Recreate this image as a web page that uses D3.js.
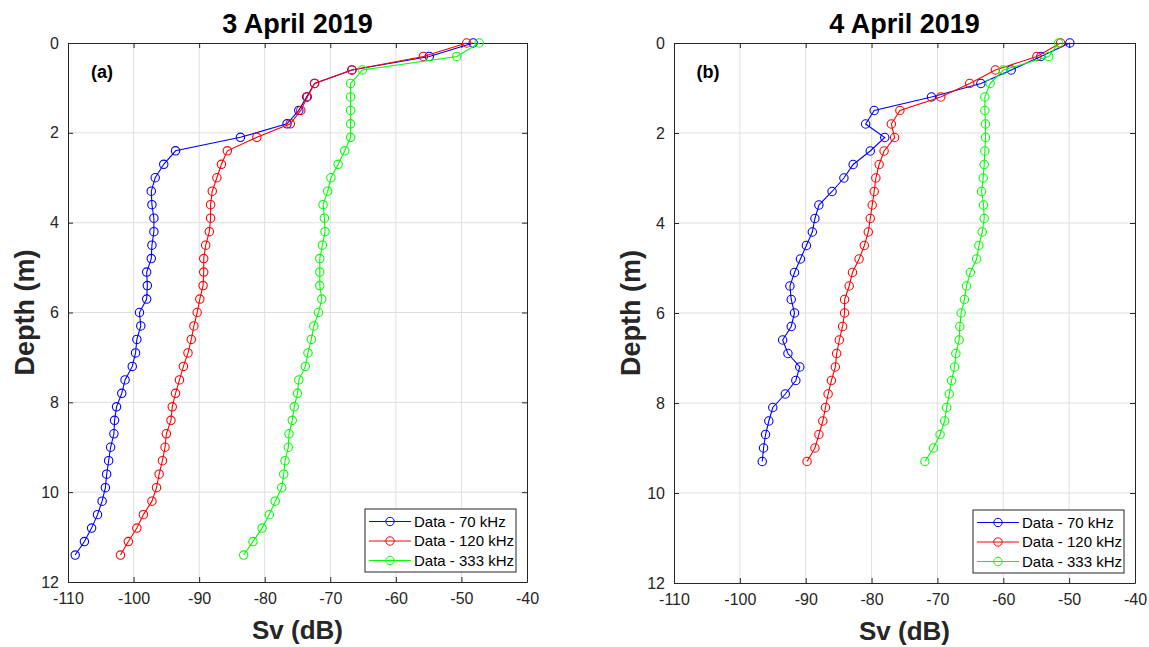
<!DOCTYPE html>
<html>
<head>
<meta charset="utf-8">
<script src="https://cdnjs.cloudflare.com/ajax/libs/d3/7.8.5/d3.min.js"></script>
<style>
  body { margin: 0; background: #fff; }
  svg { font-family: "Liberation Sans", Arial, sans-serif; }
</style>
</head>
<body>
<div id="chart"></div>
<script>
// depth (m) of each sample
var depthsA = [0, 0.3, 0.6, 0.9, 1.2, 1.5, 1.8, 2.1, 2.4, 2.7, 3.0, 3.3, 3.6, 3.9, 4.2, 4.5, 4.8, 5.1, 5.4, 5.7,
    6.0, 6.3, 6.6, 6.9, 7.2, 7.5, 7.8, 8.1, 8.4, 8.7, 9.0, 9.3, 9.6, 9.9, 10.2, 10.5, 10.8, 11.1, 11.4];
var depthsB = [0, 0.3, 0.6, 0.9, 1.2, 1.5, 1.8, 2.1, 2.4, 2.7, 3.0, 3.3, 3.6, 3.9, 4.2, 4.5, 4.8, 5.1, 5.4, 5.7,
    6.0, 6.3, 6.6, 6.9, 7.2, 7.5, 7.8, 8.1, 8.4, 8.7, 9.0, 9.3];

// 3 April 2019 - Sv (dB)
var sv70A = [-48.2, -54.9, -66.7, -72.4, -73.6, -74.8, -76.6, -83.7, -93.6, -95.4, -96.7, -97.3, -97.2, -96.9, -96.9,
    -97.2, -97.3, -98.0, -97.9, -98.0, -99.1, -98.9, -99.5, -99.7, -100.2, -101.3, -101.8, -102.6, -102.9, -103.0,
    -103.5, -103.8, -104.1, -104.3, -104.8, -105.5, -106.4, -107.5, -108.9];
var sv120A = [-49.2, -55.8, -66.7, -72.4, -73.5, -74.5, -76.1, -81.2, -85.7, -86.6, -87.3, -88.0, -88.25, -88.25, -88.45,
    -89.0, -89.3, -89.3, -89.4, -89.9, -90.3, -90.8, -91.2, -91.7, -92.4, -93.0, -93.6, -94.1, -94.3, -95.0,
    -95.2, -95.6, -96.1, -96.5, -97.2, -98.5, -99.5, -100.8, -102.0];
var sv333A = [-47.3, -50.7, -65.1, -66.9, -66.9, -66.9, -66.9, -66.9, -67.8, -68.8, -69.9, -70.4, -71.1, -70.9, -70.8,
    -71.2, -71.6, -71.6, -71.6, -71.3, -71.8, -72.5, -72.9, -73.4, -73.8, -74.8, -75.0, -75.5, -75.8, -76.3,
    -76.4, -76.9, -77.1, -77.4, -78.4, -79.3, -80.4, -81.8, -83.2];

// 4 April 2019 - Sv (dB)
var sv70B = [-49.9, -54.3, -58.8, -63.4, -70.9, -79.6, -80.9, -78.0, -80.2, -82.8, -84.2, -86.0, -88.0, -88.6, -89.0,
    -89.9, -90.8, -91.7, -92.4, -92.2, -91.7, -92.2, -93.5, -92.7, -90.9, -91.5, -93.1, -95.0, -95.6, -96.1,
    -96.4, -96.6];
var sv120B = [-51.3, -54.9, -61.2, -65.1, -69.5, -75.7, -77.0, -76.5, -78.1, -78.85, -79.35, -79.6, -79.9, -80.2, -80.5,
    -81.1, -81.9, -82.9, -83.4, -84.1, -84.1, -84.4, -84.9, -85.3, -85.5, -86.1, -86.6, -87.0, -87.4, -88.0,
    -88.6, -89.8];
var sv333B = [-51.6, -53.1, -60.0, -62.0, -62.8, -62.8, -62.7, -62.7, -62.8, -62.9, -63.05, -63.3, -63.0, -62.9, -63.2,
    -63.7, -64.05, -65.0, -65.6, -65.9, -66.4, -66.6, -66.7, -67.2, -67.4, -67.85, -68.2, -68.6, -68.9, -69.6,
    -70.6, -71.9];

var seriesNames = ["Data - 70 kHz", "Data - 120 kHz", "Data - 333 kHz"];
var seriesColors = ["#0000ff", "#ff0000", "#00ff00"];
var xTicks = [-110, -100, -90, -80, -70, -60, -50, -40];
var yTicks = [0, 2, 4, 6, 8, 10, 12];

var svg = d3.select("#chart")
    .append("svg")
    .attr("width", 1149)
    .attr("height", 647);

// plain hyphen for negatives, like matlab
var plainFmt = function (d) { return String(d); };

function drawPanel(opts) {
    var width = opts.width, height = opts.height;
    var g = svg.append("g")
        .attr("transform", "translate(" + opts.left + "," + opts.top + ")");

    var x = d3.scaleLinear().domain([-110, -40]).range([0, width]);
    var y = d3.scaleLinear().domain([0, 12]).range([0, height]);

    // grid
    g.append("g").selectAll("line.gx")
        .data(xTicks.slice(1, -1))
        .enter().append("line")
        .attr("x1", d => x(d)).attr("x2", d => x(d))
        .attr("y1", 0).attr("y2", height)
        .attr("stroke", "#dfdfdf").attr("stroke-width", 1);
    g.append("g").selectAll("line.gy")
        .data(yTicks.slice(1, -1))
        .enter().append("line")
        .attr("x1", 0).attr("x2", width)
        .attr("y1", d => y(d)).attr("y2", d => y(d))
        .attr("stroke", "#dfdfdf").attr("stroke-width", 1);

    // axes (ticks inside, like matlab)
    var xAxis = g.append("g")
        .attr("transform", "translate(0," + height + ")")
        .call(d3.axisBottom(x).tickValues(xTicks).tickFormat(plainFmt)
            .tickSizeInner(-5).tickSizeOuter(0).tickPadding(11));
    var yAxis = g.append("g")
        .call(d3.axisLeft(y).tickValues(yTicks).tickFormat(plainFmt)
            .tickSizeInner(-5).tickSizeOuter(0).tickPadding(9));
    g.append("g")
        .call(d3.axisTop(x).tickValues(xTicks).tickSizeInner(-5).tickSizeOuter(0).tickFormat(""));
    g.append("g")
        .attr("transform", "translate(" + width + ",0)")
        .call(d3.axisRight(y).tickValues(yTicks).tickSizeInner(-5).tickSizeOuter(0).tickFormat(""));

    g.selectAll(".domain").attr("stroke", "#262626");
    g.selectAll(".tick line").attr("stroke", "#262626");
    xAxis.selectAll("text").attr("font-size", "16px").attr("fill", "#262626")
        .attr("font-family", "Liberation Sans, Arial, sans-serif");
    yAxis.selectAll("text").attr("font-size", "16px").attr("fill", "#262626")
        .attr("font-family", "Liberation Sans, Arial, sans-serif");

    // series
    var line = d3.line()
        .x(d => x(d[0]))
        .y(d => y(d[1]));

    opts.series.forEach(function (vals, i) {
        var pts = vals.map((v, j) => [v, opts.depths[j]]);
        g.append("path")
            .datum(pts)
            .attr("fill", "none")
            .attr("stroke", seriesColors[i])
            .attr("stroke-width", 1.1)
            .attr("d", line);
        g.append("g").selectAll("circle")
            .data(pts)
            .enter().append("circle")
            .attr("cx", d => x(d[0]))
            .attr("cy", d => y(d[1]))
            .attr("r", 4.2)
            .attr("fill", "none")
            .attr("stroke", seriesColors[i])
            .attr("stroke-width", 1.1);
    });

    // panel letter
    g.append("text")
        .attr("x", 34).attr("y", 35)
        .attr("text-anchor", "middle")
        .attr("font-size", "18px").attr("font-weight", "bold")
        .text(opts.letter);

    // title
    g.append("text")
        .attr("x", width / 2).attr("y", -10)
        .attr("text-anchor", "middle")
        .attr("font-size", "27px").attr("font-weight", "bold")
        .text(opts.title);

    // axis labels
    g.append("text")
        .attr("x", width / 2).attr("y", height + 57)
        .attr("text-anchor", "middle")
        .attr("font-size", "26px").attr("font-weight", "bold")
        .attr("fill", "#262626")
        .text("Sv (dB)");
    g.append("text")
        .attr("transform", "translate(-34," + (height / 2) + ") rotate(-90)")
        .attr("text-anchor", "middle")
        .attr("font-size", "27px").attr("font-weight", "bold")
        .attr("fill", "#262626")
        .text("Depth (m)");

    // legend
    var lg = g.append("g")
        .attr("transform", "translate(" + (width - 162) + "," + (height - 73) + ")");
    lg.append("rect")
        .attr("width", 151).attr("height", 63)
        .attr("fill", "#fff").attr("stroke", "#262626").attr("stroke-width", 1);
    seriesNames.forEach(function (name, i) {
        var ly = 12.5 + i * 19.5;
        lg.append("line")
            .attr("x1", 4).attr("x2", 46)
            .attr("y1", ly).attr("y2", ly)
            .attr("stroke", seriesColors[i]);
        lg.append("circle")
            .attr("cx", 25).attr("cy", ly).attr("r", 4.2)
            .attr("fill", "none").attr("stroke", seriesColors[i]);
        lg.append("text")
            .attr("x", 49).attr("y", ly + 5)
            .attr("font-size", "15px")
            .attr("fill", "#000")
            .text(name);
    });
}

drawPanel({
    left: 68, top: 43, width: 459, height: 539,
    title: "3 April 2019", letter: "(a)",
    depths: depthsA, series: [sv70A, sv120A, sv333A]
});
drawPanel({
    left: 674, top: 43, width: 461, height: 540,
    title: "4 April 2019", letter: "(b)",
    depths: depthsB, series: [sv70B, sv120B, sv333B]
});
</script>
</body>
</html>
